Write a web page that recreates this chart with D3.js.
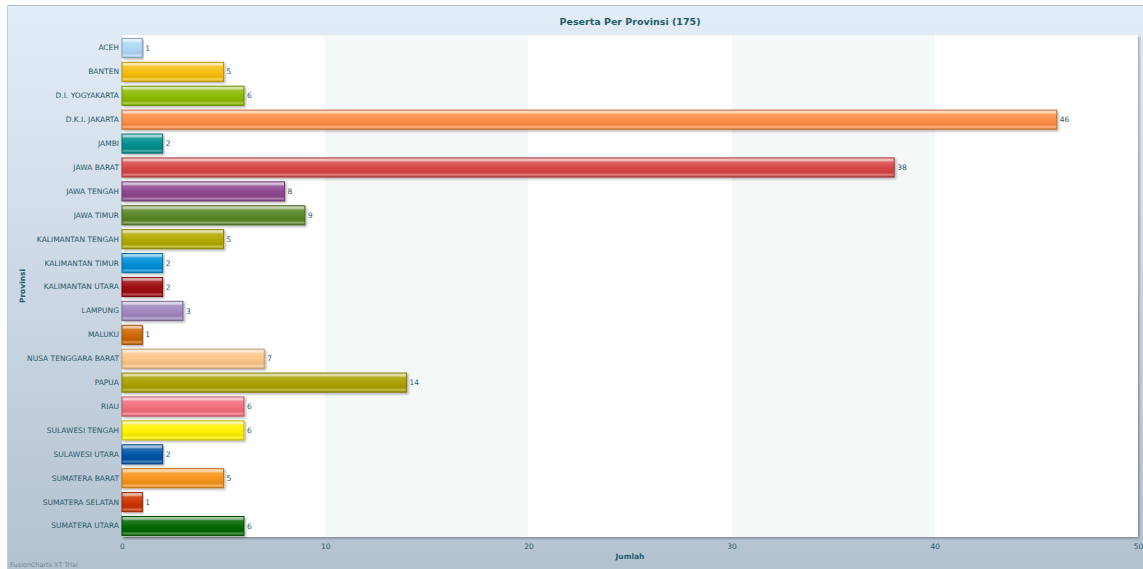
<!DOCTYPE html>
<html>
<head>
<meta charset="utf-8">
<script src="https://cdn.jsdelivr.net/npm/d3@7"></script>
<style>
  body { margin: 0; background: #fff; }
  svg { display: block; font-family: "DejaVu Sans", Verdana, sans-serif; }
</style>
</head>
<body>
<svg id="chart" width="1143" height="569"></svg>
<script>
// Data
var provinces = ["ACEH", "BANTEN", "D.I. YOGYAKARTA", "D.K.I. JAKARTA", "JAMBI", "JAWA BARAT",
  "JAWA TENGAH", "JAWA TIMUR", "KALIMANTAN TENGAH", "KALIMANTAN TIMUR", "KALIMANTAN UTARA",
  "LAMPUNG", "MALUKU", "NUSA TENGGARA BARAT", "PAPUA", "RIAU", "SULAWESI TENGAH",
  "SULAWESI UTARA", "SUMATERA BARAT", "SUMATERA SELATAN", "SUMATERA UTARA"];
var counts = [1, 5, 6, 46, 2, 38, 8, 9, 5, 2, 2, 3, 1, 7, 14, 6, 6, 2, 5, 1, 6];
var palette = ["#AFD8F8", "#F6BD0F", "#8BBA00", "#FF8E46", "#008E8E", "#D64646", "#8E468E",
  "#588526", "#B3AA00", "#008ED6", "#9D080D", "#A186BE", "#CC6600", "#FDC689", "#ABA000",
  "#F26D7D", "#FFF200", "#0054A6", "#F7941C", "#CC3300", "#006600"];
var xTicks = [0, 10, 20, 30, 40, 50];
var chartTitle = "Peserta Per Provinsi (175)";

var svg = d3.select("#chart"),
    width = +svg.attr("width"),
    height = +svg.attr("height");
var plot = {left: 122, right: 1138, top: 35, bottom: 537};
var textColor = "#2a5a6a";

var defs = svg.append("defs");

// background gradient of the whole chart
var bg = defs.append("linearGradient").attr("id", "bg")
    .attr("x1", 0).attr("y1", 0).attr("x2", 0).attr("y2", 1);
bg.append("stop").attr("offset", "0%").attr("stop-color", "#e3edf7");
bg.append("stop").attr("offset", "100%").attr("stop-color", "#b3c2d1");

var shadow = defs.append("filter").attr("id", "shadow")
    .attr("x", "-5%").attr("y", "-20%").attr("width", "110%").attr("height", "160%");
shadow.append("feDropShadow").attr("dx", 1.5).attr("dy", 1.5).attr("stdDeviation", 1)
    .attr("flood-color", "#000").attr("flood-opacity", 0.3);

// one gradient per bar colour: glossy top line, lighter strip near the bottom
palette.forEach(function(c, i) {
  var base = d3.color(c);
  var light = function(t) { return d3.interpolateRgb(c, "#fff")(t); };
  var g = defs.append("linearGradient").attr("id", "bar" + i)
      .attr("x1", 0).attr("y1", 0).attr("x2", 0).attr("y2", 1);
  g.append("stop").attr("offset", "0%").attr("stop-color", light(0.7));
  g.append("stop").attr("offset", "14%").attr("stop-color", light(0.6));
  g.append("stop").attr("offset", "22%").attr("stop-color", light(0.15));
  g.append("stop").attr("offset", "55%").attr("stop-color", c);
  g.append("stop").attr("offset", "78%").attr("stop-color", base.darker(0.2));
  g.append("stop").attr("offset", "88%").attr("stop-color", light(0.3));
  g.append("stop").attr("offset", "100%").attr("stop-color", base.darker(0.3));
});

svg.append("rect")
    .attr("x", 7).attr("y", 5)
    .attr("width", width - 7).attr("height", height - 5)
    .attr("fill", "url(#bg)");
svg.append("line")
    .attr("x1", 7).attr("x2", width).attr("y1", 5.5).attr("y2", 5.5)
    .attr("stroke", "#b4bcc4");
svg.append("line")
    .attr("x1", 7.5).attr("x2", 7.5).attr("y1", 5).attr("y2", height)
    .attr("stroke", "#c4ccd4");

// Scales
var x = d3.scaleLinear().domain([0, 50]).range([plot.left, plot.right]);
var y = d3.scaleBand().domain(provinces).range([plot.top, plot.bottom]).paddingInner(0.2).paddingOuter(0.1);

// Plot background with alternating columns
svg.append("rect")
    .attr("x", plot.left).attr("y", plot.top)
    .attr("width", plot.right - plot.left).attr("height", plot.bottom - plot.top)
    .attr("fill", "#fff")
    .attr("filter", "url(#shadow)");
svg.append("g").selectAll("rect")
    .data(d3.range(xTicks.length - 1))
    .enter().append("rect")
      .attr("x", function(i) { return x(xTicks[i]); })
      .attr("y", plot.top)
      .attr("width", function(i) { return x(xTicks[i + 1]) - x(xTicks[i]); })
      .attr("height", plot.bottom - plot.top)
      .attr("fill", function(i) { return i % 2 ? "#f4f8f9" : "#ffffff"; });

// Bars
var bars = svg.append("g").selectAll("g")
    .data(provinces)
    .enter().append("g");
bars.append("rect")
    .attr("x", x(0))
    .attr("y", function(d) { return y(d) + 1; })
    .attr("width", function(d, i) { return x(counts[i]) - x(0); })
    .attr("height", y.bandwidth())
    .attr("fill", function(d, i) { return "url(#bar" + i + ")"; })
    .attr("stroke", function(d, i) { return d3.color(palette[i]).darker(0.8); })
    .attr("stroke-width", 1)
    .attr("filter", "url(#shadow)");
bars.append("text")
    .attr("x", function(d, i) { return x(counts[i]) + 3; })
    .attr("y", function(d) { return y(d) + 1 + y.bandwidth() / 2; })
    .attr("dy", "0.35em")
    .attr("font-size", 7.5)
    .attr("fill", textColor)
    .text(function(d, i) { return counts[i]; });

// Axes
var yAxis = svg.append("g")
    .attr("transform", "translate(" + (plot.left - 3) + ",1)")
    .call(d3.axisLeft(y).tickSize(0).tickPadding(0));
yAxis.select(".domain").remove();
yAxis.selectAll("text").attr("font-size", 7.5).attr("fill", textColor)
    .attr("font-family", "DejaVu Sans, sans-serif");

var xAxis = svg.append("g")
    .attr("transform", "translate(0," + plot.bottom + ")")
    .call(d3.axisBottom(x).tickValues(xTicks).tickSize(0).tickPadding(7));
xAxis.select(".domain").remove();
xAxis.selectAll("text").attr("font-size", 7.5).attr("fill", textColor)
    .attr("font-family", "DejaVu Sans, sans-serif");

// Titles
svg.append("text")
    .attr("x", (plot.left + plot.right) / 2).attr("y", 25)
    .attr("text-anchor", "middle")
    .attr("font-size", 9.5).attr("font-weight", "bold")
    .attr("fill", "#1f5c6c")
    .text(chartTitle);
svg.append("text")
    .attr("x", (plot.left + plot.right) / 2).attr("y", 559)
    .attr("text-anchor", "middle")
    .attr("font-size", 7.5).attr("font-weight", "bold")
    .attr("fill", "#1f5c6c")
    .text("Jumlah");
svg.append("text")
    .attr("transform", "translate(25," + (plot.top + plot.bottom) / 2 + ") rotate(-90)")
    .attr("text-anchor", "middle")
    .attr("font-size", 7.5).attr("font-weight", "bold")
    .attr("fill", "#1f5c6c")
    .text("Provinsi");
svg.append("text")
    .attr("x", 10).attr("y", 567)
    .attr("font-size", 6.5)
    .attr("fill", "#7a8896")
    .text("FusionCharts XT Trial");
</script>
</body>
</html>
